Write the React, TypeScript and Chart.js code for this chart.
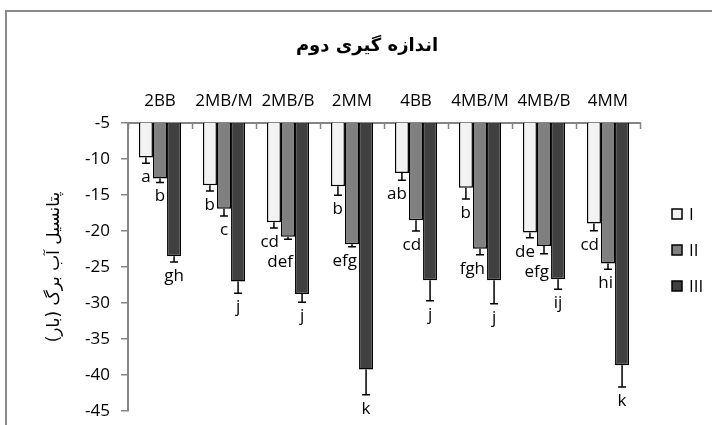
import React, { useEffect, useRef } from "react";
import { Chart, registerables } from "chart.js";

Chart.register(...registerables);

const categories = ["2BB", "2MB/M", "2MB/B", "2MM", "4BB", "4MB/M", "4MB/B", "4MM"];
const seriesNames = ["I", "II", "III"];
const seriesColors = ["#f2f2f2", "#808080", "#404040"];

const valuesI = [-9.8, -13.65, -18.8, -13.8, -11.95, -14.0, -20.2, -18.95];
const valuesII = [-12.7, -16.9, -20.8, -21.85, -18.5, -22.45, -22.1, -24.5];
const valuesIII = [-23.5, -27.0, -28.75, -39.25, -26.85, -26.85, -26.7, -38.65];

const errorsI = [0.8, 0.8, 0.8, 1.25, 1.0, 1.55, 0.75, 1.0];
const errorsII = [0.55, 1.0, 0.35, 0.35, 1.5, 0.85, 1.05, 0.8];
const errorsIII = [0.8, 1.65, 1.15, 3.5, 2.85, 3.25, 1.4, 3.0];

const lettersI = ["a", "b", "cd", "b", "ab", "b", "de", "cd"];
const lettersII = ["b", "c", "def", "efg", "cd", "fgh", "efg", "hi"];
const lettersIII = ["gh", "j", "j", "k", "j", "j", "ij", "k"];

const yMin = -45;
const yMax = -5;
const yStep = 5;

const chartTitle = "اندازه گیری دوم";
const yAxisTitle = "پتانسیل آب برگ (بار)";

const FONT = '"Open Sans", "DejaVu Sans", sans-serif';
const AXIS_GRAY = "#868686";

const allValues = [valuesI, valuesII, valuesIII];
const allErrors = [errorsI, errorsII, errorsIII];
const allLetters = [lettersI, lettersII, lettersIII];

const decorPlugin = {
  id: "decor",
  beforeDraw(chart: any) {
    const ctx = chart.ctx;
    ctx.save();
    ctx.fillStyle = "#ffffff";
    ctx.fillRect(0, 0, chart.width, chart.height);
    ctx.strokeStyle = "#8a8a8a";
    ctx.lineWidth = 2;
    ctx.strokeRect(6, 11, chart.width + 20, chart.height + 20);
    ctx.restore();
  },
  afterDraw(chart: any) {
    const ctx = chart.ctx;
    const area = chart.chartArea;
    const xs = chart.scales.x;
    ctx.save();
    // category boundary ticks (inside)
    ctx.strokeStyle = AXIS_GRAY;
    ctx.lineWidth = 1.5;
    const n = categories.length;
    const cw = (area.right - area.left) / n;
    for (let i = 0; i <= n; i++) {
      const x = Math.round(xs.left + i * cw) + 0.5;
      ctx.beginPath();
      ctx.moveTo(x, area.top);
      ctx.lineTo(x, area.top + 6);
      ctx.stroke();
    }
    // title
    ctx.fillStyle = "#000";
    ctx.direction = "rtl";
    ctx.textAlign = "center";
    ctx.textBaseline = "middle";
    ctx.font = 'bold 18px "DejaVu Sans", sans-serif';
    ctx.fillText(chartTitle, 367, 46);
    // y axis title
    ctx.save();
    ctx.translate(55, (area.top + area.bottom) / 2);
    ctx.rotate(-Math.PI / 2);
    ctx.font = '17px "DejaVu Sans", sans-serif';
    ctx.fillText(yAxisTitle, 0, 0);
    ctx.restore();
    // legend
    ctx.direction = "ltr";
    ctx.textAlign = "left";
    ctx.font = "17px " + FONT;
    seriesNames.forEach((name, i) => {
      const cy = 214 + i * 36;
      ctx.fillStyle = seriesColors[i];
      ctx.fillRect(672, cy - 5, 10, 10);
      ctx.strokeStyle = "#000";
      ctx.lineWidth = 1.5;
      ctx.strokeRect(672, cy - 5, 10, 10);
      ctx.fillStyle = "#000";
      ctx.fillText(name, 689, cy + 1);
    });
    ctx.restore();
  },
  afterDatasetsDraw(chart: any) {
    const ctx = chart.ctx;
    const ys = chart.scales.y;
    ctx.save();
    ctx.font = "17px " + FONT;
    ctx.textAlign = "center";
    ctx.textBaseline = "alphabetic";
    const prevBoxes: any[] = [];
    chart.data.datasets.forEach((ds: any, di: number) => {
      const meta = chart.getDatasetMeta(di);
      meta.data.forEach((el: any, i: number) => {
        const { x, y } = el.getProps(["x", "y", "width"], true);
        const v = ds.data[i];
        const e = ds.errors[i];
        const yEnd = ys.getPixelForValue(v - e);
        ctx.strokeStyle = "#000";
        ctx.lineWidth = 1.5;
        ctx.beginPath();
        ctx.moveTo(x, y);
        ctx.lineTo(x, yEnd);
        ctx.moveTo(x - 4, yEnd);
        ctx.lineTo(x + 4, yEnd);
        ctx.stroke();
        // letter
        const txt = ds.letters[i];
        const w = ctx.measureText(txt).width;
        let baseline = yEnd + 19;
        let cx = x;
        if (di + 1 < chart.data.datasets.length) {
          const nextEl = chart.getDatasetMeta(di + 1).data[i];
          const np = nextEl.getProps(["x", "y", "width"], true);
          const nextLeft = np.x - np.width / 2;
          if (baseline - 13 < np.y && cx + w / 2 > nextLeft - 2) {
            cx = nextLeft - 2 - w / 2;
          }
        }
        const prev = prevBoxes[i];
        if (prev && cx - w / 2 < prev.right && baseline - prev.baseline < 20) {
          baseline = prev.baseline + 20;
        }
        prevBoxes[i] = { right: cx + w / 2, baseline };
        ctx.fillStyle = "#000";
        ctx.fillText(txt, cx, baseline);
      });
    });
    ctx.restore();
  },
};

export default function App() {
  const ref = useRef<HTMLCanvasElement | null>(null);
  useEffect(() => {
    document.body.style.margin = "0";
    const canvas = ref.current;
    if (!canvas) return;
    const chart = new Chart(canvas, {
      type: "bar",
      data: {
        labels: categories,
        datasets: seriesNames.map((name, i) => ({
          label: name,
          data: allValues[i],
          errors: allErrors[i],
          letters: allLetters[i],
          backgroundColor: seriesColors[i],
          borderColor: "#000000",
          borderWidth: 1.5,
          categoryPercentage: 0.66,
          barPercentage: 1.0,
        })) as any,
      },
      options: {
        responsive: false,
        animation: false,
        devicePixelRatio: 1,
        layout: { padding: { top: 83, left: 0, right: 72, bottom: 14 } },
        plugins: {
          legend: { display: false },
          title: { display: false },
          tooltip: { enabled: false },
        },
        scales: {
          x: {
            position: "top",
            grid: { display: false, drawTicks: false },
            border: { display: true, color: AXIS_GRAY, width: 2 },
            ticks: { color: "#000", font: { family: FONT, size: 17 }, padding: 12, maxRotation: 0, autoSkip: false },
            afterFit: (s: any) => {
              s.height = 40;
            },
          },
          y: {
            min: yMin,
            max: yMax,
            grid: { display: true, drawOnChartArea: false, drawTicks: true, tickLength: 7, color: AXIS_GRAY, lineWidth: 1.5 },
            border: { display: true, color: AXIS_GRAY, width: 2 },
            ticks: { stepSize: yStep, color: "#000", font: { family: FONT, size: 17 }, padding: 11 },
            afterFit: (s: any) => {
              s.width = 128;
              s.paddingTop = 0;
              s.paddingBottom = 0;
            },
          },
        },
      },
      plugins: [decorPlugin],
    });
    return () => chart.destroy();
  }, []);
  return (
    <div style={{ width: 712, height: 425 }}>
      <canvas ref={ref} width={712} height={425} style={{ display: "block" }} />
    </div>
  );
}
